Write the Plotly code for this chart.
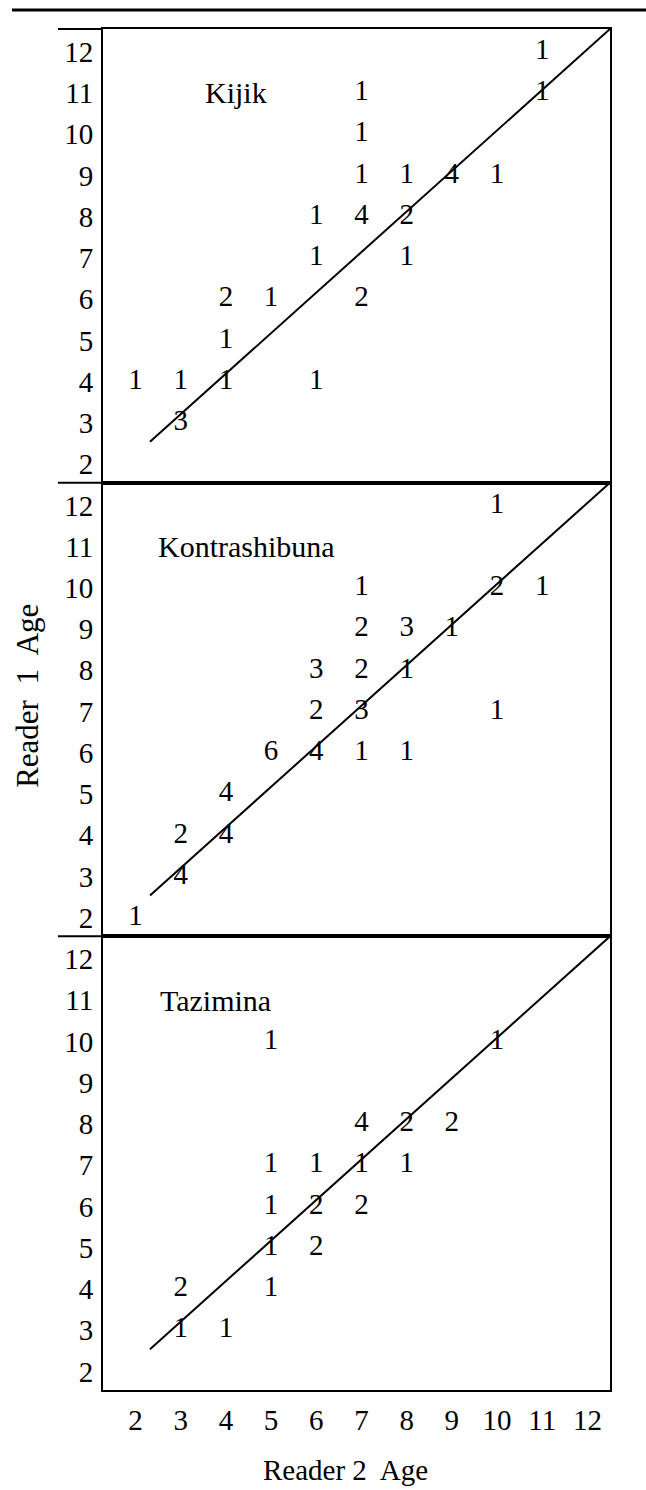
import plotly.graph_objects as go
from plotly.subplots import make_subplots

# Age-reading agreement: counts of fish by Reader 2 age (x) and Reader 1 age (y)
sites = ["Kijik", "Kontrashibuna", "Tazimina"]

kijik_r2 = [11, 7, 11, 7, 7, 8, 9, 10, 6, 7, 8, 6, 8, 4, 5, 7, 4, 2, 3, 4, 6, 3]
kijik_r1 = [12, 11, 11, 10, 9, 9, 9, 9, 8, 8, 8, 7, 7, 6, 6, 6, 5, 4, 4, 4, 4, 3]
kijik_n = [1, 1, 1, 1, 1, 1, 4, 1, 1, 4, 2, 1, 1, 2, 1, 2, 1, 1, 1, 1, 1, 3]

kontra_r2 = [10, 7, 10, 11, 7, 8, 9, 6, 7, 8, 6, 7, 10, 5, 6, 7, 8, 4, 3, 4, 3, 2]
kontra_r1 = [12, 10, 10, 10, 9, 9, 9, 8, 8, 8, 7, 7, 7, 6, 6, 6, 6, 5, 4, 4, 3, 2]
kontra_n = [1, 1, 2, 1, 2, 3, 1, 3, 2, 1, 2, 3, 1, 6, 4, 1, 1, 4, 2, 4, 4, 1]

tazi_r2 = [5, 10, 7, 8, 9, 5, 6, 7, 8, 5, 6, 7, 5, 6, 3, 5, 3, 4]
tazi_r1 = [10, 10, 8, 8, 8, 7, 7, 7, 7, 6, 6, 6, 5, 5, 4, 4, 3, 3]
tazi_n = [1, 1, 4, 2, 2, 1, 1, 1, 1, 1, 2, 2, 1, 2, 2, 1, 1, 1]

age_ticks = [2, 3, 4, 5, 6, 7, 8, 9, 10, 11, 12]

# 1:1 agreement line
line_x = [2.32, 12.5]
line_y = [2.54, 12.55]

# site label anchor (left edge, row 11)
label_x = [3.5, 2.45, 2.5]
label_y = [11, 11, 11]

panels = [
    (kijik_r2, kijik_r1, kijik_n),
    (kontra_r2, kontra_r1, kontra_n),
    (tazi_r2, tazi_r1, tazi_n),
]

FONT = "Liberation Serif, Times New Roman, serif"
FS = 29
X_RANGE = [1.28, 12.5]
Y_RANGE = [1.55, 12.55]

fig = make_subplots(rows=3, cols=1, shared_xaxes=True, vertical_spacing=0)

for i, (r2, r1, n) in enumerate(panels, start=1):
    fig.add_trace(
        go.Scatter(
            x=line_x, y=line_y, mode="lines",
            line=dict(color="black", width=2),
            showlegend=False, hoverinfo="skip",
        ),
        row=i, col=1,
    )
    fig.add_trace(
        go.Scatter(
            x=r2, y=r1, mode="text",
            text=[str(v) for v in n],
            textposition="middle center",
            textfont=dict(family=FONT, size=FS, color="black"),
            showlegend=False,
        ),
        row=i, col=1,
    )
    fig.add_annotation(
        x=label_x[i - 1], y=label_y[i - 1],
        xref=f"x{'' if i == 1 else i}", yref=f"y{'' if i == 1 else i}",
        text=sites[i - 1], showarrow=False,
        xanchor="left", yanchor="middle",
        font=dict(family=FONT, size=30, color="black"),
    )

axis_style = dict(
    showline=True, mirror=True, linecolor="black", linewidth=2,
    showgrid=False, zeroline=False, ticks="",
    tickfont=dict(family=FONT, size=FS, color="black"),
)

for i in range(1, 4):
    fig.update_yaxes(
        range=Y_RANGE, tickmode="array", tickvals=age_ticks,
        ticktext=[str(t) for t in age_ticks],
        ticklabelstandoff=2,
        row=i, col=1, **axis_style,
    )
    fig.update_xaxes(
        range=X_RANGE, tickmode="array", tickvals=age_ticks,
        ticktext=[str(t) for t in age_ticks],
        showticklabels=(i == 3), ticklabelstandoff=3,
        row=i, col=1, **axis_style,
    )

# Rules: heavy top rule and short left extensions of the panel borders
shapes = [
    dict(type="line", xref="paper", yref="paper",
         x0=-0.1795, x1=1.08, y0=1.01396, y1=1.01396,
         line=dict(color="black", width=3)),
]
for yp in [1.0, 2 / 3, 1 / 3]:
    shapes.append(dict(type="line", xref="paper", yref="paper",
                       x0=-0.0888, x1=0, y0=yp, y1=yp,
                       line=dict(color="black", width=2)))
fig.update_layout(shapes=shapes)

fig.add_annotation(
    x=0.479, y=-0.0588, xref="paper", yref="paper",
    text="Reader 2  Age", showarrow=False,
    xanchor="center", yanchor="middle",
    font=dict(family=FONT, size=FS, color="black"),
)
fig.add_annotation(
    x=-0.148, y=0.51, xref="paper", yref="paper",
    text="Reader  1  Age", showarrow=False, textangle=-90,
    xanchor="center", yanchor="middle",
    font=dict(family=FONT, size=31, color="black"),
)

fig.update_layout(
    width=646, height=1490,
    margin=dict(l=103, r=36, t=29, b=100),
    paper_bgcolor="white", plot_bgcolor="white",
    showlegend=False,
)

fig.write_html("out.html")
